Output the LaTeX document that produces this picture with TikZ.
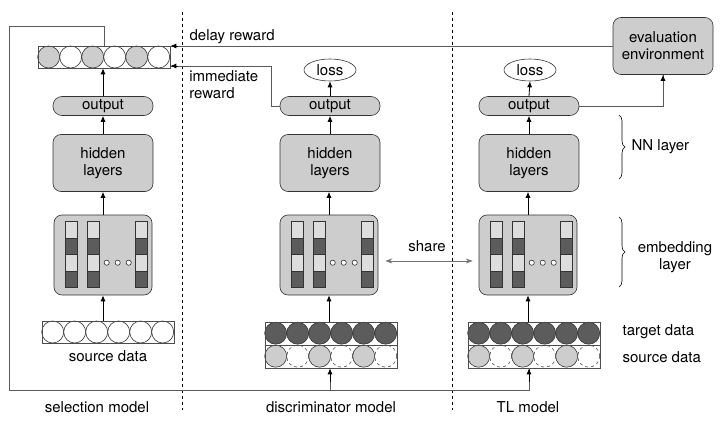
\documentclass[tikz,border=0pt]{standalone}
\usepackage{fontspec}
\setmainfont{TeX Gyre Heros}
\usetikzlibrary{shapes.geometric,arrows.meta,calc,decorations.pathreplacing}
\definecolor{boxgray}{HTML}{CDCDCD}
\definecolor{celllight}{HTML}{DDDDDD}
\definecolor{celldark}{HTML}{5C5C5C}
\definecolor{linegray}{HTML}{5A5A5A}

\begin{document}
\begin{tikzpicture}[x=1pt, y=-1pt, line width=0.6pt,
  font=\fontsize{15}{17}\selectfont,
  box/.style={draw=black!80, fill=boxgray, rounded corners=8pt, align=center,
    inner sep=0pt, minimum width=100pt},
  pill/.style={box, rounded corners=9pt, minimum height=19pt},
  layerbox/.style={box, minimum height=57pt},
  embbox/.style={box, minimum width=98pt, minimum height=80pt},
  databar/.style={draw=black!70, minimum width=132pt, inner sep=0pt},
  lossnode/.style={draw=black!80, ellipse, minimum width=52pt, minimum height=22pt, inner sep=0pt},
  conn/.style={draw=linegray, line width=0.8pt},
  arr/.style={-{Latex[length=6pt,width=5pt]}, draw=black, line width=0.8pt}]
  \useasboundingbox (0,0) rectangle (726,428);

  % column separators
  \draw[dashed, line width=0.6pt] (182,12) -- (182,410);
  \draw[dashed, line width=0.6pt] (452,12) -- (452,410);

  % selection model
  \node[databar, minimum height=22pt] (sbar) at (104,57) {};
  \node[pill] (sout) at (103,106) {output};
  \node[layerbox] (shid) at (103,163) {hidden\\layers};
  \node[embbox] (semb) at (103,255) {};
  \node[databar, minimum height=22pt] (ssrc) at (108,332) {};
  \node (ssrclab) at (108,356) {source data};
  \node (sellab) at (97,407) {selection model};
  \foreach \i/\c in {0/boxgray,1/white,2/boxgray,3/white,4/boxgray,5/white}
    \filldraw[draw=black!80, fill=\c] ($(sbar.west)+(11+22*\i,0)$) circle[radius=11pt];
  \foreach \i in {0,...,5}
    \filldraw[draw=black!80, fill=white] ($(ssrc.west)+(11+22*\i,0)$) circle[radius=11pt];
  \node[databar, minimum height=22pt] at (sbar) {};
  \node[databar, minimum height=22pt] at (ssrc) {};

  % discriminator model
  \node[lossnode] (dloss) at (330,70) {loss};
  \node[pill] (dout) at (330,106) {output};
  \node[layerbox] (dhid) at (330,163) {hidden\\layers};
  \node[embbox] (demb) at (329,255) {};
  \node[databar, minimum height=46pt] (ddata) at (331,345) {};
  \node (disclab) at (331,407) {discriminator model};

  % TL model
  \node[lossnode] (tloss) at (530,70) {loss};
  \node[pill] (tout) at (529,106) {output};
  \node[layerbox] (thid) at (529,163) {hidden\\layers};
  \node[embbox] (temb) at (528,255) {};
  \node[databar, minimum height=46pt] (tdata) at (534,345) {};
  \node (tllab) at (528,407) {TL model};

  % evaluation environment
  \node[box, minimum height=57pt] (env) at (663,46) {evaluation\\environment};

  % data rows: target on top, source below
  \foreach \d in {ddata,tdata} {
    \foreach \i in {0,...,5}
      \filldraw[draw=black!80, fill=celldark] ($(\d.north west)+(11+22*\i,11.5)$) circle[radius=11pt];
    \foreach \i in {0,2,4}
      \filldraw[draw=black!80, fill=boxgray] ($(\d.north west)+(11+22*\i,34.5)$) circle[radius=11pt];
    \foreach \i in {1,3,5}
      \draw[draw=black!70, dashed] ($(\d.north west)+(11+22*\i,34.5)$) circle[radius=11pt];
    \draw[draw=black!70] (\d.west) -- (\d.east);
    \node[databar, minimum height=46pt] at (\d) {};
  }

  % embedding vectors
  \foreach \e in {semb,demb,temb} {
    \foreach \bx in {12,34,82}
      \foreach \k/\c in {0/celllight,1/celldark,2/celllight,3/celldark}
        \filldraw[draw=black!80, fill=\c] ($(\e.north west)+(\bx,7+16.5*\k)$) rectangle ++(11.5,16.5);
    \foreach \dx in {53,64,75}
      \filldraw[draw=black!80, fill=white] ($(\e.north west)+(\dx,48)$) circle[radius=2.6pt];
  }

  % forward arrows
  \draw[arr] (ssrc.north -| semb) -- (semb.south);
  \draw[arr] (semb.north) -- (semb.north |- shid.south);
  \draw[arr] (shid.north) -- (sout.south);
  \draw[arr] (sout.north) -- (sout.north |- sbar.south);
  \draw[arr] (ddata.north -| demb) -- (demb.south);
  \draw[arr] (demb.north) -- (demb.north |- dhid.south);
  \draw[arr] (dhid.north) -- (dout.south);
  \draw[arr] (dout.north) -- (dloss.south);
  \draw[arr] (tdata.north -| temb) -- (temb.south);
  \draw[arr] (temb.north) -- (temb.north |- thid.south);
  \draw[arr] (thid.north) -- (tout.south);
  \draw[arr] (tout.north) -- (tloss.south);

  % selected data fed back to the two models
  \coordinate (fbl) at (9,390);
  \draw[conn] (sbar.north) -- (sbar.north |- 0,26) -| (fbl);
  \draw[conn] (fbl) -| (tout |- tdata.south);
  \draw[arr] (tout |- 0,382) -- (tout |- tdata.south);
  \draw[conn] (dout |- fbl) -- (dout |- 0,380);
  \draw[arr] (dout |- 0,382) -- (dout |- ddata.south);

  % rewards
  \draw[conn] (tout.east) -| (env.south);
  \draw[arr] (env.south |- 0,80) -- (env.south);
  \draw[conn] (env.west) -- (env.west -| sbar.east);
  \draw[arr] (env.west -| 178,0) -- (env.west -| sbar.east);
  \node[anchor=west] (delaylab) at (186,37) {delay reward};
  \coordinate (irin) at (sbar.east |- 0,66);
  \draw[conn] (dout.west) -- ++(-8,0) |- (irin);
  \draw[arr] (178,66) -- (irin);
  \node[anchor=north west, align=left, inner sep=0pt] (immlab) at (189,70) {immediate\\reward};

  % shared embedding
  \draw[draw=black!55, line width=0.7pt, {Stealth[length=7pt,width=5pt]}-{Stealth[length=7pt,width=5pt]}]
    ([yshift=-6pt,xshift=7pt]demb.east) -- ([yshift=-6pt,xshift=-6pt]temb.west);
  \node (sharelab) at (427,246) {share};

  % layer braces
  \draw[line width=0.6pt, decorate, decoration={brace, amplitude=6pt}] (619,115) -- (619,179);
  \node[anchor=west] (nnlab) at (628,147) {NN layer};
  \draw[line width=0.6pt, decorate, decoration={brace, amplitude=6pt}] (619,217) -- (619,287);
  \node[align=center] (emblab) at (675,257) {embedding\\layer};

  % legend of the data rows
  \node[anchor=west] (tgtlab) at (619,332) {target data};
  \node[anchor=west] (srclab) at (619,357) {source data};
\end{tikzpicture}
\end{document}
